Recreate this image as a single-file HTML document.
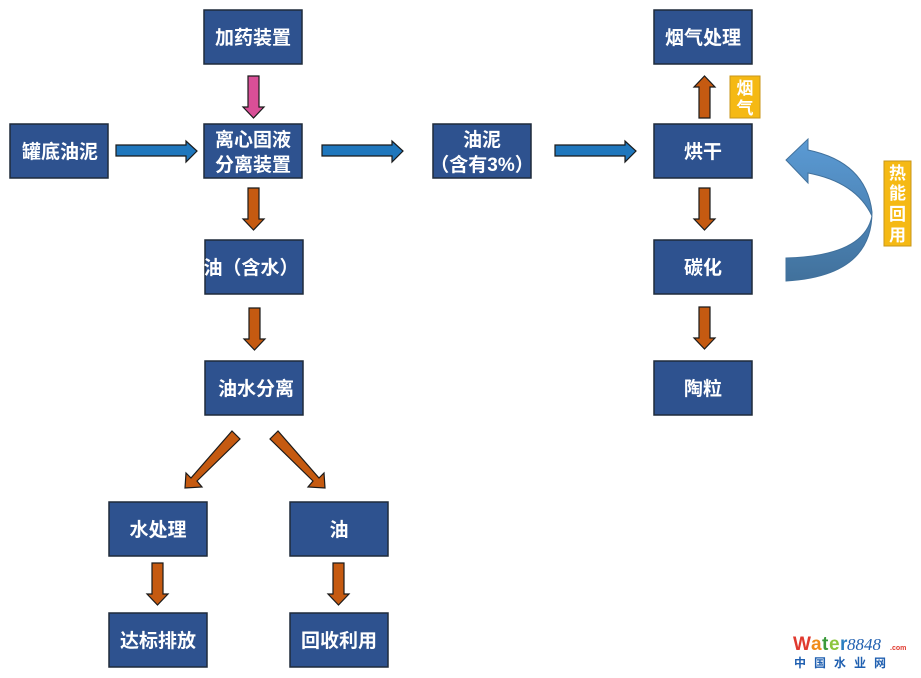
<!DOCTYPE html>
<html><head><meta charset="utf-8"><style>
html,body{margin:0;padding:0;background:#fff;width:921px;height:678px;overflow:hidden}
svg text{font-family:"Liberation Sans","Noto Sans CJK SC",sans-serif;font-weight:bold;fill:#fff}
</style></head><body>
<svg width="921" height="678" viewBox="0 0 921 678" xmlns="http://www.w3.org/2000/svg">
<defs>
<linearGradient id="cg" x1="0" y1="0" x2="0" y2="1"><stop offset="0" stop-color="#5b9bd5"/><stop offset="1" stop-color="#41719c"/></linearGradient>
</defs>
<g fill="#2e528f" stroke="#1f2a3a" stroke-width="1.5">
<rect x="204" y="10" width="98" height="54"/>
<rect x="10" y="124" width="98" height="54"/>
<rect x="204" y="124" width="98" height="54"/>
<rect x="433" y="124" width="98" height="54"/>
<rect x="205" y="240" width="98" height="54"/>
<rect x="205" y="361" width="98" height="54"/>
<rect x="109" y="502" width="98" height="54"/>
<rect x="290" y="502" width="98" height="54"/>
<rect x="109" y="613" width="98" height="54"/>
<rect x="290" y="613" width="98" height="54"/>
<rect x="654" y="10" width="98" height="54"/>
<rect x="654" y="124" width="98" height="54"/>
<rect x="654" y="240" width="98" height="54"/>
<rect x="654" y="361" width="98" height="54"/>
</g>
<g font-size="19" text-anchor="middle">
<text x="253" y="44">加药装置</text>
<text x="60" y="158">罐底油泥</text>
<text x="253" y="146">离心固液</text>
<text x="253" y="171">分离装置</text>
<text x="482" y="146">油泥</text>
<text x="482" y="171">（含有3%）</text>
<text x="251" y="274">油（含水）</text>
<text x="256" y="395">油水分离</text>
<text x="158" y="536">水处理</text>
<text x="339" y="536">油</text>
<text x="158" y="647">达标排放</text>
<text x="339" y="647">回收利用</text>
<text x="703" y="44">烟气处理</text>
<text x="703" y="158">烘干</text>
<text x="703" y="274">碳化</text>
<text x="703" y="395">陶粒</text>
</g>
<g fill="#1f77bd" stroke="#1a1a1a" stroke-width="1.2">
<path d="M116,145 H186 V141 L197,151 L186,162 V156 H116 Z"/>
<path d="M322,145 H392 V141 L403,151 L392,162 V156 H322 Z"/>
<path d="M555,145 H625 V141 L636,151 L625,162 V156 H555 Z"/>
</g>
<path fill="#d94f97" stroke="#1a1a1a" stroke-width="1.2" d="M248,76 H259 V107 H264 L253.5,118 L243,107 H248 Z"/>
<g fill="#c55a11" stroke="#1a1a1a" stroke-width="1.2">
<path d="M248,188 H259 V219 H264 L253.5,230 L243,219 H248 Z"/>
<path d="M249,308 H260 V339 H265 L254.5,350 L244,339 H249 Z"/>
<path d="M152,563 H163 V594 H168 L157.5,605 L147,594 H152 Z"/>
<path d="M333,563 H344 V594 H349 L338.5,605 L328,594 H333 Z"/>
<path d="M699,188 H710 V219 H715 L704.5,230 L694,219 H699 Z"/>
<path d="M699,307 H710 V338 H715 L704.5,349 L694,338 H699 Z"/>
<path d="M699,118 H710 V87 H715 L704.5,76 L694,87 H699 Z"/>
<path d="M232,431 L240,439 L197,481 L202,487 L185,488 L186,473 L191,478 Z"/>
<path d="M278,431 L270,439 L313,481 L308,487 L325,488 L324,473 L319,478 Z"/>
</g>
<rect x="730" y="76" width="30" height="42" fill="#f5b914" stroke="#c8961a" stroke-width="1"/>
<g font-size="17" text-anchor="middle"><text x="745" y="94">烟</text><text x="745" y="114">气</text></g>
<rect x="884" y="161" width="27" height="85" fill="#f5b914" stroke="#c8961a" stroke-width="1"/>
<g font-size="17" text-anchor="middle"><text x="897.5" y="179">热</text><text x="897.5" y="199">能</text><text x="897.5" y="220">回</text><text x="897.5" y="241">用</text></g>
<path fill="url(#cg)" stroke="#41719c" stroke-width="1" d="M786,281 Q872,276 872,212 Q866,162 808,150 L808,139 L786,160 L808,183 L808,173 Q856,182 872,216 Q864,256 786,258 Z"/>
<text x="793" y="650" font-size="19" style="fill:#e03a2f">W</text>
<text x="811" y="650" font-size="19" style="fill:#f08c1a">a</text>
<text x="822" y="650" font-size="19" style="fill:#3a9a3a">t</text>
<text x="829" y="650" font-size="19" style="fill:#8dc53e">e</text>
<text x="840" y="650" font-size="19" style="fill:#2a7fc2">r</text>
<text x="847" y="650" font-size="17" font-style="italic" style="fill:#1f5fb0;font-weight:normal;font-family:'Liberation Serif',serif">8848</text>
<text x="890" y="650" font-size="7" style="fill:#e03a2f">.com</text>
<text x="794" y="667" font-size="12" style="fill:#1f5fb0;letter-spacing:8px">中国水业网</text>
</svg>
</body></html>
